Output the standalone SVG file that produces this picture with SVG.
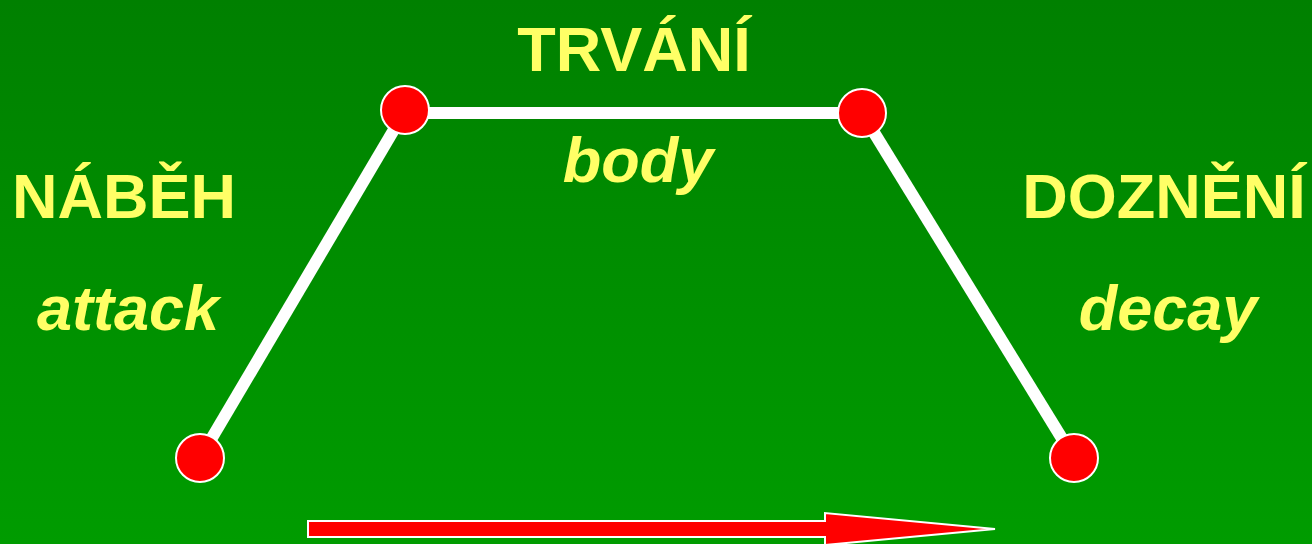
<svg xmlns="http://www.w3.org/2000/svg" width="1312" height="544" viewBox="0 0 1312 544">
<defs>
<linearGradient id="bg" x1="0" y1="0" x2="0" y2="1">
<stop offset="0" stop-color="#008000"/>
<stop offset="1" stop-color="#009c00"/>
</linearGradient>
</defs>
<style>
.t{font-family:"Liberation Sans",Arial,sans-serif;font-weight:bold;font-size:63px;fill:#ffff66}
.i{font-style:italic}
.n{fill:#ff0000;stroke:#ffffff;stroke-width:2}
.e{stroke:#ffffff;stroke-width:12;fill:none}
</style>
<rect width="1312" height="544" fill="url(#bg)"/>
<g id="connectors">
<line class="e" x1="200" y1="458" x2="405" y2="111"/>
<line class="e" x1="405" y1="113" x2="862" y2="113"/>
<line class="e" x1="862" y1="113" x2="1074" y2="458"/>
<path d="M308,521 H825 V513 L995,529 L825,545 V537 H308 Z" fill="#ff0000" stroke="#ffffff" stroke-width="2"/>
</g>
<g id="n1"><circle class="n" cx="200" cy="458" r="24"/></g>
<g id="n2"><circle class="n" cx="405" cy="110" r="24"/></g>
<g id="n3"><circle class="n" cx="862" cy="113" r="24"/></g>
<g id="n4"><circle class="n" cx="1074" cy="458" r="24"/></g>
<g id="labels">
<text class="t" x="634" y="71" text-anchor="middle">TRVÁNÍ</text>
<text class="t i" x="638" y="182" text-anchor="middle">body</text>
<text class="t" x="124" y="218" text-anchor="middle">NÁBĚH</text>
<text class="t i" x="128" y="330" text-anchor="middle">attack</text>
<text class="t" x="1164" y="218" text-anchor="middle">DOZNĚNÍ</text>
<text class="t i" x="1168" y="330" text-anchor="middle">decay</text>
</g>
</svg>
